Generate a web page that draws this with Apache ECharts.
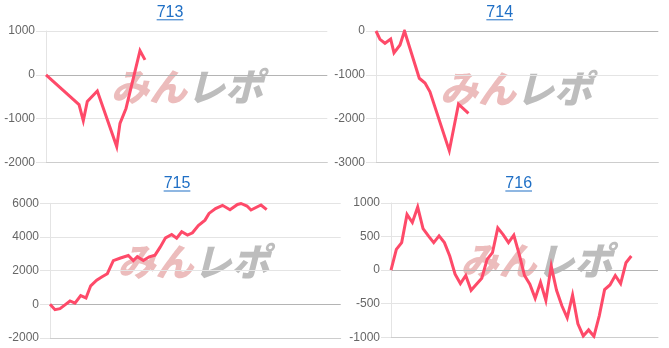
<!DOCTYPE html>
<html>
<head>
<meta charset="utf-8">
<script src="https://cdn.jsdelivr.net/npm/echarts@6/dist/echarts.min.js"></script>
<style>
html,body{margin:0;padding:0;background:#fff;}
#c{width:669px;height:348px;}
</style>
</head>
<body>
<div id="c"></div>
<script>
// ---- data (x in horizontal slot units 0..50, y = coin difference) ----
const titles = ['713', '714', '715', '716'];

const x713 = [0, 5.87, 6.63, 7.34, 9.12, 12.57, 13.15, 14.22, 16.71, 17.6];
const y713 = [0, -680, -1050, -610, -370, -1640, -1110, -770, 550, 340];

const x714 = [0, 0.71, 1.59, 2.6, 3.19, 4.25, 5.05, 7.67, 8.68, 9.56, 12.98, 14.61, 16.38];
const y714 = [0, -190, -280, -185, -500, -320, 0, -1080, -1190, -1390, -2735, -1670, -1880];

const x715 = [0, 0.86, 1.72, 2.58, 3.44, 4.30, 5.28, 6.19, 7.00, 8.03, 8.89, 9.86, 10.89, 12.13, 13.47, 14.33, 15.02, 16.05, 17.08, 18.06, 18.92, 19.87, 20.93, 21.79, 22.65, 23.65, 24.51, 25.51, 26.66, 27.35, 28.47, 29.67, 30.96, 32.25, 32.85, 33.88, 34.57, 36.29, 37.27];
const y715 = [0, -320, -260, -30, 200, 70, 520, 380, 1100, 1430, 1620, 1820, 2590, 2750, 2900, 2600, 2830, 2600, 2820, 2920, 3380, 3950, 4150, 3930, 4310, 4110, 4250, 4680, 5000, 5400, 5690, 5880, 5620, 5930, 5990, 5840, 5600, 5900, 5620];

const x716 = [0, 1, 2, 3, 4, 5, 6, 7, 8, 9, 10, 11, 12, 13, 14, 15, 16, 17, 18, 19, 20, 21, 22, 23, 24, 25, 26, 27, 28, 29, 30, 31, 32, 33, 34, 35, 36, 37, 38, 39, 40, 41, 42, 43, 44, 45];
const y716 = [0, 310, 410, 830, 710, 940, 620, 510, 410, 510, 410, 210, -60, -200, -80, -300, -210, -120, 160, 260, 630, 530, 410, 520, 240, -80, -210, -420, -180, -450, 60, -300, -530, -710, -370, -800, -980, -890, -985, -680, -290, -220, -80, -200, 110, 210];

const ticks713 = [-2000, -1000, 0, 1000];
const ticks714 = [-3000, -2000, -1000, 0];
const ticks715 = [-2000, 0, 2000, 4000, 6000];
const ticks716 = [-1000, -500, 0, 500, 1000];

const xs = [x713, x714, x715, x716];
const ys = [y713, y714, y715, y716];
const ticks = [ticks713, ticks714, ticks715, ticks716];

// ---- layout / style ----
const grids = [
  {left: 46, top: 31, width: 281.3, height: 131.3},
  {left: 376, top: 31, width: 282.3, height: 131.3},
  {left: 50, top: 203.3, width: 290.7, height: 134.7},
  {left: 391, top: 203, width: 267, height: 134.3}
];
const titlePos = [[170, 12.5, 19.3], [499.7, 12.5, 19.3], [177, 184, 190.5], [518.7, 184, 190.5]];
const markPos = [[187, 87], [516, 88.5], [193.5, 261.5], [536.5, 261]];

const lineColor = '#fe4a69';
const gridColor = '#e4e4e4';
const zeroColor = '#b4b4b4';
const blue = '#1f6fc5';

const option = {
  animation: false,
  grid: grids.map(g => Object.assign({containLabel: false, outerBoundsMode: 'none'}, g)),
  xAxis: grids.map((g, i) => ({
    type: 'value', gridIndex: i, min: 0, max: 50,
    axisLabel: {show: false}, axisTick: {show: false}, splitLine: {show: false},
    axisLine: {show: true, onZero: false, lineStyle: {color: '#cdcdcd', width: 1}}
  })),
  yAxis: ticks.map((t, i) => ({
    type: 'value', gridIndex: i,
    min: t[0], max: t[t.length - 1], interval: t[1] - t[0],
    axisLine: {show: true, lineStyle: {color: gridColor}},
    axisTick: {show: true, length: 10, lineStyle: {color: gridColor}},
    axisLabel: {
      color: '#666', fontSize: 12, margin: 11,
      fontFamily: 'Liberation Sans, Arial, sans-serif',
      formatter: v => String(v)
    },
    splitLine: {show: true, lineStyle: {color: t.map(v => v === 0 ? zeroColor : gridColor), width: 1}}
  })),
  series: ys.map((y, i) => ({
    type: 'line', xAxisIndex: i, yAxisIndex: i,
    data: y.map((v, k) => [xs[i][k], v]),
    showSymbol: false, symbol: 'none',
    lineStyle: {color: lineColor, width: 3, join: 'miter'},
    z: 5
  })),
  graphic: []
};

titles.forEach((t, i) => {
  const [cx, cy, uy] = titlePos[i];
  const w = 26.7;
  option.graphic.push({
    type: 'text', x: cx, y: cy, z: 10,
    style: {text: t, fill: blue, font: '16px "Liberation Sans", Arial, sans-serif', textAlign: 'center', textVerticalAlign: 'middle'}
  });
  option.graphic.push({
    type: 'rect', z: 10,
    shape: {x: cx - w / 2, y: uy, width: w, height: 1},
    style: {fill: blue}
  });
  const [mx, my] = markPos[i];
  option.graphic.push({
    type: 'text', x: mx, y: my, z: -1,
    style: {
      text: '{a|みん}{b|レポ}',
      textAlign: 'center', textVerticalAlign: 'middle',
      rich: {
        a: {fill: '#ecbcbc', fontSize: 38, fontWeight: 900, fontStyle: 'italic', fontFamily: '"Noto Sans CJK JP", sans-serif'},
        b: {fill: '#bdbdbd', fontSize: 38, fontWeight: 900, fontStyle: 'italic', fontFamily: '"Noto Sans CJK JP", sans-serif'}
      }
    }
  });
});

const chart = echarts.init(document.getElementById('c'), null, {renderer: 'canvas'});
chart.setOption(option);
</script>
</body>
</html>
